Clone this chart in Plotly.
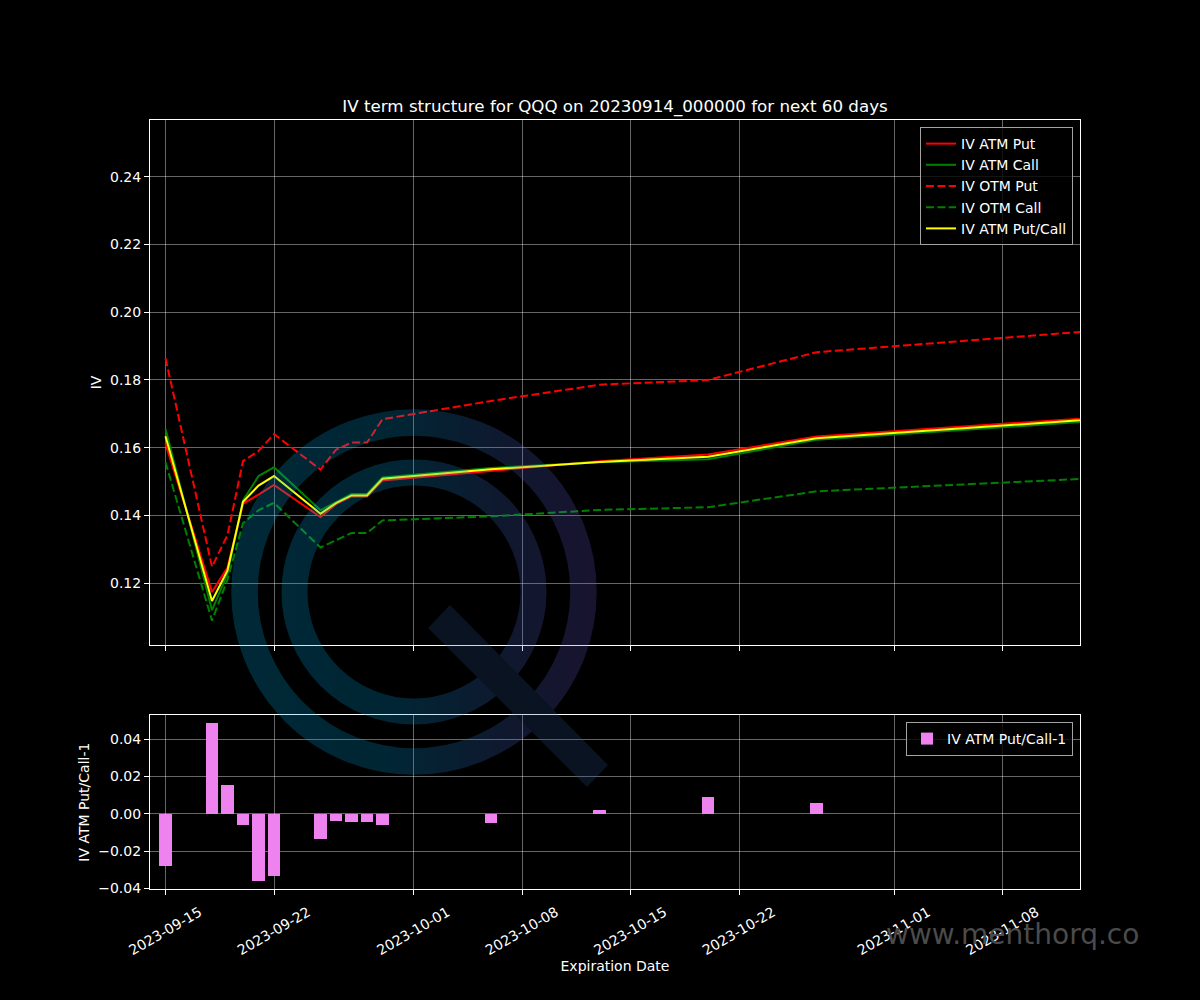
import base64
import plotly.graph_objects as go

# ---------------- data ----------------
dates = ["2023-09-15", "2023-09-18", "2023-09-19", "2023-09-20", "2023-09-21",
         "2023-09-22", "2023-09-25", "2023-09-26", "2023-09-27", "2023-09-28",
         "2023-09-29", "2023-10-06", "2023-10-13", "2023-10-20", "2023-10-27",
         "2023-11-17"]

iv_atm_put = [0.1612, 0.1174, 0.1246, 0.1435, 0.1461, 0.1490, 0.1395, 0.1433,
              0.1456, 0.1456, 0.1503, 0.1532, 0.1560, 0.1580, 0.1633, 0.1698]
iv_atm_call = [0.1656, 0.1120, 0.1227, 0.1444, 0.1516, 0.1542, 0.1415, 0.1439,
               0.1463, 0.1463, 0.1512, 0.1540, 0.1557, 0.1566, 0.1623, 0.1688]
iv_otm_put = [0.1864, 0.1248, 0.1342, 0.1560, 0.1590, 0.1640, 0.1535, 0.1594,
              0.1615, 0.1615, 0.1684, 0.1738, 0.1786, 0.1800, 0.1882, 0.1956]
iv_otm_call = [0.1557, 0.1089, 0.1210, 0.1377, 0.1415, 0.1437, 0.1305, 0.1327,
               0.1348, 0.1348, 0.1385, 0.1397, 0.1416, 0.1424, 0.1471, 0.1516]
iv_atm_put_call = [0.1634, 0.1147, 0.1237, 0.1440, 0.1488, 0.1516, 0.1405, 0.1436,
                   0.1459, 0.1459, 0.1508, 0.1536, 0.1558, 0.1573, 0.1628, 0.1693]
iv_put_call_minus_1 = [-0.0281, 0.0484, 0.0155, -0.0062, -0.0361, -0.0334, -0.0137,
                       -0.0041, -0.0046, -0.0046, -0.0062, -0.0052, 0.0021, 0.0091,
                       0.0059, 0.0060]

x_tick_vals = ["2023-09-15", "2023-09-22", "2023-10-01", "2023-10-08",
               "2023-10-15", "2023-10-22", "2023-11-01", "2023-11-08"]
x_tick_text = x_tick_vals
x_range = ["2023-09-14", "2023-11-13"]

y1_tick_vals = [0.12, 0.14, 0.16, 0.18, 0.20, 0.22, 0.24]
y1_tick_text = ["0.12", "0.14", "0.16", "0.18", "0.20", "0.22", "0.24"]
y1_range = [0.1017, 0.2568]

y2_tick_vals = [-0.04, -0.02, 0.0, 0.02, 0.04]
y2_tick_text = ["\u22120.04", "\u22120.02", "0.00", "0.02", "0.04"]
y2_range = [-0.0403, 0.0528]

title_text = "IV term structure for QQQ on 20230914_000000 for next 60 days"

# ---------------- figure ----------------
W, H = 1200, 1000
FONT = "DejaVu Sans"
LW = 2.0
DASH = "8px,3.4px"

fig = go.Figure()

fig.add_trace(go.Scatter(x=dates, y=iv_atm_put, mode="lines", name="IV ATM Put",
                         line=dict(color="#ff0000", width=LW), xaxis="x", yaxis="y",
                         legend="legend"))
fig.add_trace(go.Scatter(x=dates, y=iv_atm_call, mode="lines", name="IV ATM Call",
                         line=dict(color="#008000", width=LW), xaxis="x", yaxis="y",
                         legend="legend"))
fig.add_trace(go.Scatter(x=dates, y=iv_otm_put, mode="lines", name="IV OTM Put",
                         line=dict(color="#ff0000", width=LW, dash=DASH),
                         xaxis="x", yaxis="y", legend="legend"))
fig.add_trace(go.Scatter(x=dates, y=iv_otm_call, mode="lines", name="IV OTM Call",
                         line=dict(color="#008000", width=LW, dash=DASH),
                         xaxis="x", yaxis="y", legend="legend"))
fig.add_trace(go.Scatter(x=dates, y=iv_atm_put_call, mode="lines", name="IV ATM Put/Call",
                         line=dict(color="#ffff00", width=LW), xaxis="x", yaxis="y",
                         legend="legend"))

fig.add_trace(go.Bar(x=dates, y=iv_put_call_minus_1, name="IV ATM Put/Call-1",
                     marker=dict(color="#ee82ee", line=dict(width=0)),
                     width=0.8 * 86400000, xaxis="x2", yaxis="y2", legend="legend2"))

grid_c = "rgba(255,255,255,0.40)"
axis_common = dict(showline=True, mirror=True, linecolor="white", linewidth=1.1,
                   ticks="outside", ticklen=5, tickwidth=1.1, tickcolor="white",
                   showgrid=True, gridcolor=grid_c, gridwidth=1, zeroline=False,
                   automargin=False,
                   tickfont=dict(family=FONT, size=14, color="white"))

x_left, x_right = 150 / W, 1080 / W
top_dom = [1 - 645 / H, 1 - 120 / H]
bot_dom = [1 - 889 / H, 1 - 715.3 / H]

fig.update_layout(
    width=W, height=H,
    margin=dict(l=0, r=0, t=0, b=0, autoexpand=False),
    paper_bgcolor="black", plot_bgcolor="black",
    font=dict(family=FONT, size=14, color="white"),
    title=dict(text=title_text, x=615 / W, xanchor="center", y=1 - 106 / H,
               yanchor="middle", font=dict(family=FONT, size=16.7, color="white")),
    xaxis=dict(domain=[x_left, x_right], anchor="y", type="date", range=x_range,
               tickvals=x_tick_vals, ticktext=x_tick_text, showticklabels=False,
               **axis_common),
    yaxis=dict(domain=top_dom, anchor="x", range=y1_range, tickvals=y1_tick_vals,
               ticktext=y1_tick_text,
               title=dict(text="IV", standoff=5, font=dict(family=FONT, size=14, color="white")),
               **axis_common),
    xaxis2=dict(domain=[x_left, x_right], anchor="y2", type="date", range=x_range,
                tickvals=x_tick_vals, ticktext=x_tick_text, tickangle=-30,
                ticklabelshift=34, ticklabelstandoff=4,
                title=dict(text="Expiration Date", standoff=1,
                           font=dict(family=FONT, size=14, color="white")),
                **axis_common),
    yaxis2=dict(domain=bot_dom, anchor="x2", range=y2_range, tickvals=y2_tick_vals,
                ticktext=y2_tick_text,
                title=dict(text="IV ATM Put/Call-1", standoff=5,
                           font=dict(family=FONT, size=14, color="white")),
                **axis_common),
    legend=dict(x=1073 / W, xanchor="right", y=1 - 127 / H, yanchor="top",
                bgcolor="rgba(0,0,0,0.8)", bordercolor="rgb(163,163,163)", borderwidth=1,
                font=dict(family=FONT, size=14, color="white"), itemwidth=30),
    legend2=dict(x=1073 / W, xanchor="right", y=1 - 722 / H, yanchor="top",
                 bgcolor="rgba(0,0,0,0.8)", bordercolor="rgb(163,163,163)", borderwidth=1,
                 font=dict(family=FONT, size=14, color="white"), itemwidth=30),
    bargap=0,
    showlegend=True,
)

# ---------------- watermark (logo + text) ----------------
svg = """<svg xmlns='http://www.w3.org/2000/svg' width='400' height='400' viewBox='0 0 400 400'>
<defs>
<linearGradient id='g' gradientUnits='userSpaceOnUse' x1='12' y1='0' x2='377' y2='0'>
<stop offset='0' stop-color='rgb(0,185,245)'/>
<stop offset='0.45' stop-color='rgb(5,170,235)'/>
<stop offset='0.75' stop-color='rgb(70,110,210)'/>
<stop offset='1' stop-color='rgb(115,88,215)'/>
</linearGradient>
</defs>
<g opacity='0.22'>
<circle cx='194' cy='192' r='169.5' fill='none' stroke='url(#g)' stroke-width='26.5'/>
<circle cx='194' cy='192' r='119.5' fill='none' stroke='url(#g)' stroke-width='26'/>
<polygon points='230,205 388,365 367,387 208,228' fill='rgb(45,88,150)'/>
</g>
</svg>"""
src = "data:image/svg+xml;base64," + base64.b64encode(svg.encode()).decode()
fig.add_layout_image(dict(source=src, xref="paper", yref="paper",
                          x=220 / W, y=1 - 400 / H, sizex=400 / W, sizey=400 / H,
                          xanchor="left", yanchor="top", sizing="stretch",
                          layer="above", opacity=1))

fig.add_annotation(text="www.menthorq.co", xref="paper", yref="paper",
                   x=884 / W, xanchor="left", y=1 - 934 / H, yanchor="middle",
                   showarrow=False, font=dict(family=FONT, size=28, color="#4b4b4b"))

fig.write_html("out.html")
